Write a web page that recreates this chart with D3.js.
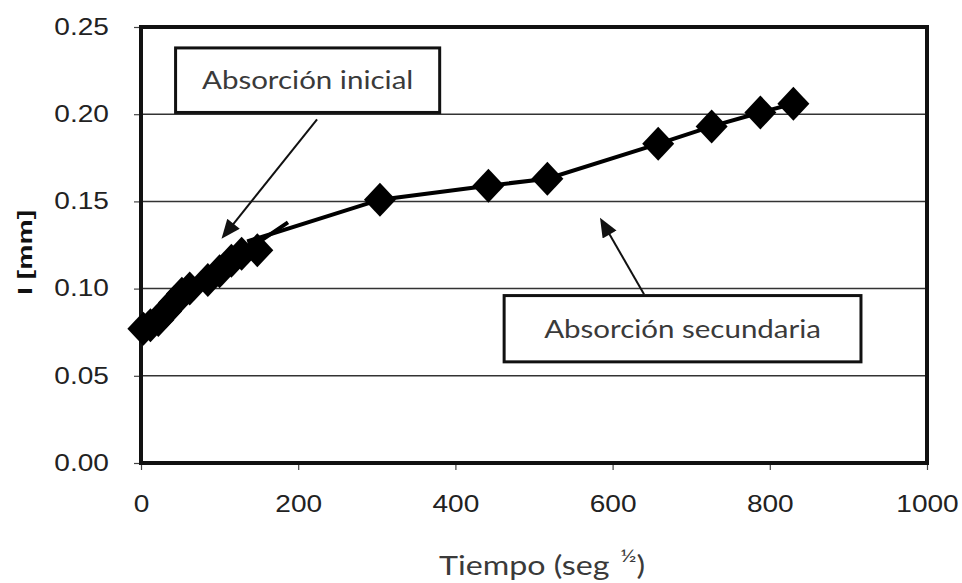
<!DOCTYPE html>
<html>
<head>
<meta charset="utf-8">
<script src="https://cdn.jsdelivr.net/npm/d3@7"></script>
<style>
  body { margin: 0; background: #fff; }
  .tick text, .ancho { transform-box: fill-box; transform-origin: center; }
  .tick text { transform: scaleX(1.22); }
</style>
</head>
<body>
<script>
// absorcion capilar: lectura del grafico
var xTicks = [0, 200, 400, 600, 800, 1000];
var yTicks = [0, 0.05, 0.10, 0.15, 0.20, 0.25];

var tiempo = [3, 12, 22, 32, 42, 52, 62, 85, 100, 115, 128, 148, 304, 442, 517, 658, 726, 788, 830];
var absorcion = [0.077, 0.079, 0.082, 0.087, 0.092, 0.097, 0.100, 0.105, 0.110, 0.116, 0.120, 0.122,
                 0.151, 0.159, 0.163, 0.183, 0.193, 0.201, 0.206];

// tramos de las rectas
var lineaInicial = [[3, 0.077], [62, 0.100], [128, 0.120], [187, 0.138]];
var lineaSecundaria = [[135, 0.127], [304, 0.151], [442, 0.159], [517, 0.163], [658, 0.183], [726, 0.193], [788, 0.201], [830, 0.206]];

var notas = [
  { texto: "Absorción inicial", x0: 44, x1: 380, y0: 0.238, y1: 0.201, desde: [224, 0.197], hasta: [105, 0.130] },
  { texto: "Absorción secundaria", x0: 462, x1: 916, y0: 0.0960, y1: 0.058, desde: [640, 0.0968], hasta: [586, 0.139] }
];

var width = 962, height = 583,
  margin = { top: 27, right: 35, bottom: 120, left: 141 };

var x = d3.scaleLinear().domain([0, 1000]).range([margin.left, width - margin.right]);
var y = d3.scaleLinear().domain([0, 0.25]).range([height - margin.bottom, margin.top]);

var svg = d3.select("body").append("svg")
  .attr("width", width)
  .attr("height", height)
  .style("font-family", "'Liberation Sans', Arial, sans-serif");

svg.append("defs").append("marker")
  .attr("id", "flecha")
  .attr("viewBox", "-6 -5 12 10")
  .attr("markerWidth", 10)
  .attr("markerHeight", 8)
  .attr("markerUnits", "strokeWidth")
  .attr("orient", "auto")
  .attr("refX", 4)
  .attr("refY", 0)
  .append("path")
  .attr("d", "M -6,-5 L 6,0 L -6,5 Z")
  .attr("fill", "#111");

// lineas de division
svg.append("g").selectAll("line")
  .data(yTicks.filter(function(d) { return d > 0 && d < 0.25; }))
  .enter().append("line")
  .attr("x1", x(0)).attr("x2", x(1000))
  .attr("y1", function(d) { return y(d); })
  .attr("y2", function(d) { return y(d); })
  .attr("stroke", "#333")
  .attr("stroke-width", 1.5);

var xAxis = svg.append("g")
  .attr("transform", "translate(0," + y(0) + ")")
  .call(d3.axisBottom(x).tickValues(xTicks).tickSize(7).tickPadding(26).tickFormat(d3.format("d")));

var yAxis = svg.append("g")
  .attr("transform", "translate(" + x(0) + ",0)")
  .call(d3.axisLeft(y).tickValues(yTicks).tickSize(7).tickPadding(30).tickFormat(d3.format(".2f")));

[xAxis, yAxis].forEach(function(a) {
  a.select(".domain").remove();
  a.selectAll(".tick line").attr("stroke", "#444").attr("stroke-width", 1.2);
  a.selectAll(".tick text").attr("fill", "#222").style("font-size", "23px");
});

// marco
svg.append("rect")
  .attr("x", x(0)).attr("y", y(0.25))
  .attr("width", x(1000) - x(0))
  .attr("height", y(0) - y(0.25))
  .attr("fill", "none")
  .attr("stroke", "#111")
  .attr("stroke-width", 4);

var line = d3.line()
  .x(function(d) { return x(d[0]); })
  .y(function(d) { return y(d[1]); });

svg.append("path")
  .datum(lineaInicial)
  .attr("d", line)
  .attr("fill", "none")
  .attr("stroke", "#000")
  .attr("stroke-width", 4);

svg.append("path")
  .datum(lineaSecundaria)
  .attr("d", line)
  .attr("fill", "none")
  .attr("stroke", "#000")
  .attr("stroke-width", 4);

svg.append("g").selectAll("path")
  .data(tiempo)
  .enter().append("path")
  .attr("transform", function(d, i) { return "translate(" + x(d) + "," + y(absorcion[i]) + ")"; })
  .attr("d", "M0,-17 L16,0 L0,17 L-16,0 Z")
  .attr("fill", "#000");

// anotaciones
var nota = svg.append("g").selectAll("g")
  .data(notas)
  .enter().append("g");

nota.append("line")
  .attr("x1", function(d) { return x(d.desde[0]); })
  .attr("y1", function(d) { return y(d.desde[1]); })
  .attr("x2", function(d) { return x(d.hasta[0]); })
  .attr("y2", function(d) { return y(d.hasta[1]); })
  .attr("stroke", "#111")
  .attr("stroke-width", 2)
  .attr("marker-end", "url(#flecha)");

nota.append("rect")
  .attr("x", function(d) { return x(d.x0); })
  .attr("y", function(d) { return y(d.y0); })
  .attr("width", function(d) { return x(d.x1) - x(d.x0); })
  .attr("height", function(d) { return y(d.y1) - y(d.y0); })
  .attr("fill", "#fff")
  .attr("stroke", "#111")
  .attr("stroke-width", 3);

nota.append("text")
  .attr("class", "ancho")
  .attr("x", function(d) { return (x(d.x0) + x(d.x1)) / 2; })
  .attr("y", function(d) { return (y(d.y0) + y(d.y1)) / 2 + 9; })
  .attr("text-anchor", "middle")
  .style("font-family", "Lato, 'Open Sans', sans-serif")
  .style("font-size", "25px")
  .style("transform", "scaleX(1.18)")
  .attr("fill", "#3a3a3a")
  .text(function(d) { return d.texto; });

// titulos de ejes
svg.append("text")
  .attr("class", "ancho")
  .attr("transform", "translate(24," + (y(0.125) + 15) + ") rotate(-90) scale(1.35,1)")
  .attr("text-anchor", "middle")
  .style("font-size", "21px")
  .style("font-weight", "bold")
  .attr("fill", "#111")
  .text("I [mm]");

var xt = svg.append("text")
  .attr("class", "ancho")
  .attr("x", (x(0) + x(1000)) / 2 + 8)
  .attr("y", 575)
  .attr("text-anchor", "middle")
  .style("font-family", "Lato, 'Open Sans', sans-serif")
  .style("font-size", "26px")
  .style("transform", "scaleX(1.24)")
  .attr("fill", "#3a3a3a");
xt.append("tspan").text("Tiempo (seg ");
xt.append("tspan").attr("dx", 2).attr("dy", -13).style("font-size", "18px").text("½");
xt.append("tspan").attr("dy", 13).text(")");
</script>
</body>
</html>
